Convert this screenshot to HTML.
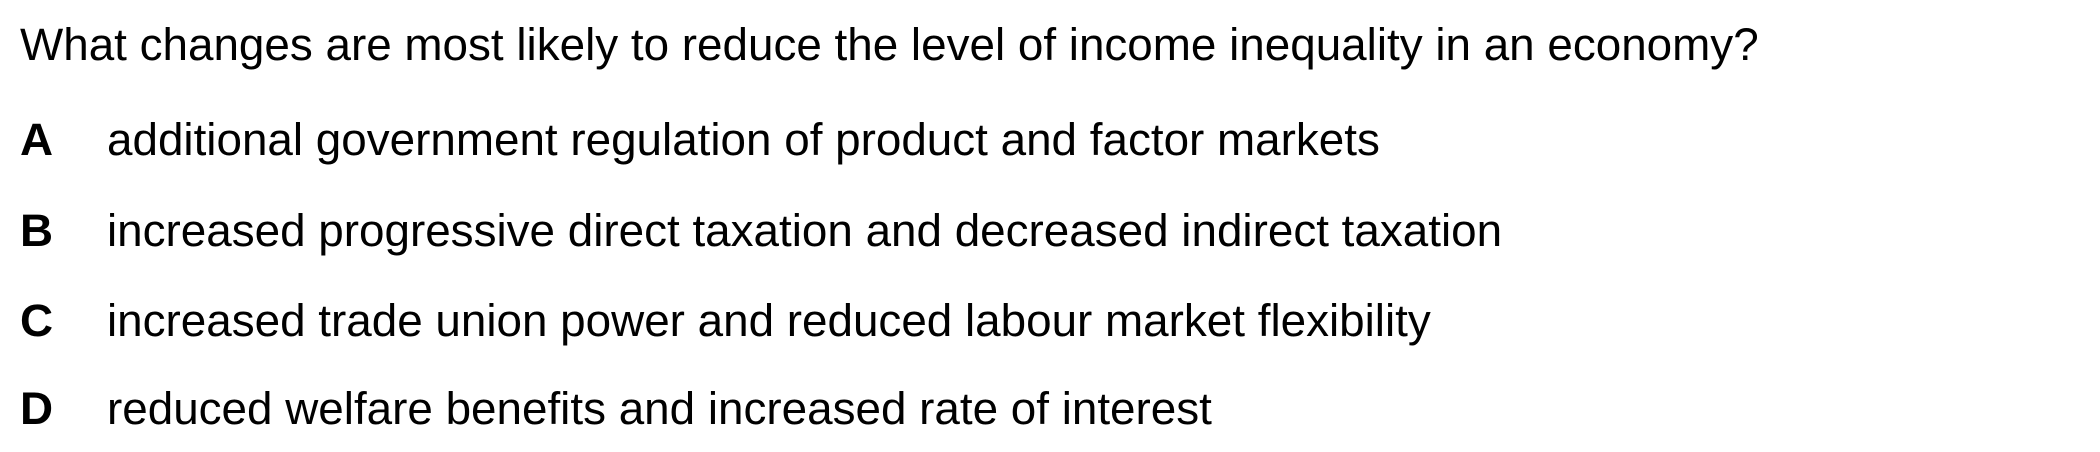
<!DOCTYPE html>
<html><head><meta charset="utf-8"><style>
html,body{margin:0;padding:0;background:#fff;}
body{width:2100px;height:452px;position:relative;overflow:hidden;font-family:"Liberation Sans",Arial,sans-serif;font-size:45.8px;color:#000;}
.t{position:absolute;white-space:nowrap;line-height:1;}
.l{font-weight:bold;left:20px;}
.o{left:107px;}
</style></head><body>
<div class="t" style="left:20px;top:22px;">What changes are most likely to reduce the level of income inequality in an economy?</div>
<div class="t l" style="top:117px;">A</div>
<div class="t o" style="top:117px;">additional government regulation of product and factor markets</div>
<div class="t l" style="top:208px;">B</div>
<div class="t o" style="top:208px;">increased progressive direct taxation and decreased indirect taxation</div>
<div class="t l" style="top:298px;">C</div>
<div class="t o" style="top:298px;">increased trade union power and reduced labour market flexibility</div>
<div class="t l" style="top:386px;">D</div>
<div class="t o" style="top:386px;">reduced welfare benefits and increased rate of interest</div>
</body></html>
